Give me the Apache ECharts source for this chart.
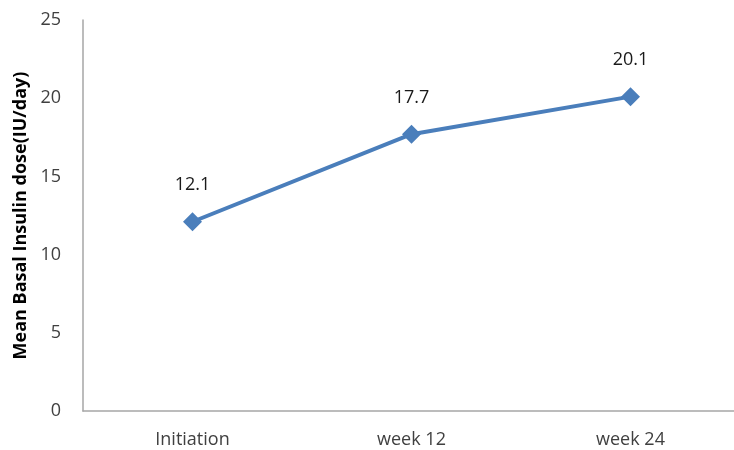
<!DOCTYPE html>
<html>
<head>
<meta charset="utf-8">
<script src="https://cdn.jsdelivr.net/npm/echarts@6/dist/echarts.min.js"></script>
<style>
  html, body { margin: 0; padding: 0; background: #fff; overflow: hidden; }
  #main { width: 746px; height: 450px; }
</style>
</head>
<body>
<div id="main"></div>
<script>
  // 数据
  const categories = ['Initiation', 'week 12', 'week 24'];
  const doseValues = [12.1, 17.7, 20.1];
  const yTicks = [0, 5, 10, 15, 20, 25];

  const chart = echarts.init(document.getElementById('main'));
  const font = '"Open Sans", "Liberation Sans", sans-serif';

  const option = {
    animation: false,
    grid: {
      left: 83,
      top: 20,
      right: 6, // 绘图区略超出可见窗口
      bottom: 39
    },
    xAxis: {
      type: 'category',
      data: categories,
      boundaryGap: true,
      axisLine: { lineStyle: { color: '#a6a6a6', width: 1.5 } },
      axisTick: { show: false },
      axisLabel: { color: '#404040', fontSize: 18, fontFamily: font, margin: 20 }
    },
    yAxis: {
      type: 'value',
      min: yTicks[0],
      max: yTicks[yTicks.length - 1],
      interval: 5,
      name: 'Mean Basal Insulin dose(IU/day)',
      nameLocation: 'middle',
      nameGap: 52,
      nameTextStyle: { color: '#000', fontSize: 18, fontWeight: 'bold', fontFamily: font },
      axisLine: { show: true, lineStyle: { color: '#a6a6a6', width: 1.5 } },
      axisTick: { show: false },
      splitLine: { show: false },
      axisLabel: { color: '#404040', fontSize: 18, fontFamily: font, margin: 22 }
    },
    series: [
      {
        type: 'line',
        data: doseValues,
        symbol: 'diamond',
        symbolSize: 19,
        lineStyle: { color: '#4a7ebb', width: 4 },
        itemStyle: { color: '#4a7ebb' },
        label: {
          show: true,
          position: 'top',
          distance: 18,
          color: '#1a1a1a',
          fontSize: 18,
          fontFamily: font
        }
      }
    ]
  };
  chart.setOption(option);
</script>
</body>
</html>
